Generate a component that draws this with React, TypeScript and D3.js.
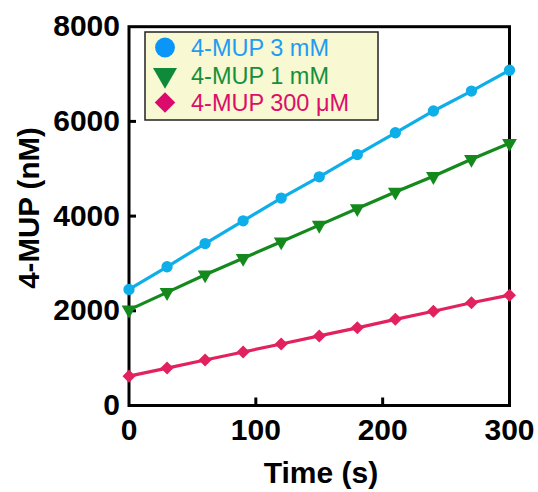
import React from "react";
import * as d3 from "d3";

const times = [0, 30, 60, 90, 120, 150, 180, 210, 240, 270, 300];
const mup3mM = [2450, 2930, 3420, 3900, 4380, 4830, 5300, 5760, 6220, 6640, 7080];
const mup1mM = [2020, 2390, 2760, 3110, 3460, 3810, 4160, 4510, 4840, 5200, 5540];
const mup300uM = [620, 790, 960, 1130, 1300, 1470, 1640, 1820, 1990, 2170, 2330];
const seriesNames = ["4-MUP 3 mM", "4-MUP 1 mM", "4-MUP 300 μM"];
const xTicks = [0, 100, 200, 300];
const yTicks = [0, 2000, 4000, 6000, 8000];

const W = 538;
const H = 492;
const FONT = "'Liberation Sans', Arial, sans-serif";

export default function App() {
  const x = d3.scaleLinear().domain([0, 300]).range([129, 509.5]);
  const y = d3.scaleLinear().domain([0, 8000]).range([405.5, 26.7]);

  const series = [
    { name: seriesNames[0], values: mup3mM, line: "#0EAEE8", mark: "#0EAEE8", legMark: "#0A96F8", text: "#1E9CF2", symbol: d3.symbolCircle },
    { name: seriesNames[1], values: mup1mM, line: "#148A1C", mark: "#148A1C", legMark: "#0F8A3A", text: "#16903A", symbol: d3.symbolTriangle },
    { name: seriesNames[2], values: mup300uM, line: "#E2215F", mark: "#E2215F", legMark: "#DC0A6C", text: "#DC0E6A", symbol: d3.symbolSquare },
  ];

  const lineGen = d3
    .line<[number, number]>()
    .x((d) => x(d[0]))
    .y((d) => y(d[1]));

  const markerPath = (sym: d3.SymbolType, size: number) => d3.symbol().type(sym).size(size)() as string;
  const plotSizes = [100, 95, 85];
  const legSizes = [310, 250, 210];
  const rot = [0, 180, 45];

  const [x0, x1] = x.range();
  const [y0, y1] = y.range();

  return (
    <svg width={W} height={H} style={{ position: "absolute", left: 0, top: 0, background: "#fff" }}>
      {/* frame */}
      <rect x={x0} y={y1} width={x1 - x0} height={y0 - y1} fill="none" stroke="#000" strokeWidth={3} />
      {/* ticks */}
      {yTicks.slice(1, -1).map((t) => (
        <line key={"yt" + t} x1={x0} x2={x0 + 7} y1={y(t)} y2={y(t)} stroke="#000" strokeWidth={3} />
      ))}
      {xTicks.slice(1, -1).map((t) => (
        <line key={"xt" + t} x1={x(t)} x2={x(t)} y1={y0} y2={y0 - 8} stroke="#000" strokeWidth={3} />
      ))}
      {/* tick labels */}
      {yTicks.map((t) => (
        <text key={"yl" + t} x={120} y={y(t) + 9.5} textAnchor="end" fontFamily={FONT} fontWeight="bold" fontSize={30} fill="#000">
          {t}
        </text>
      ))}
      {xTicks.map((t) => (
        <text key={"xl" + t} x={x(t)} y={439.5} textAnchor="middle" fontFamily={FONT} fontWeight="bold" fontSize={30} fill="#000">
          {t}
        </text>
      ))}
      {/* axis titles */}
      <text x={321} y={483} textAnchor="middle" fontFamily={FONT} fontWeight="bold" fontSize={30} fill="#000">
        Time (s)
      </text>
      <text transform="translate(39,208) rotate(-90)" textAnchor="middle" fontFamily={FONT} fontWeight="bold" fontSize={29.5} fill="#000">
        4-MUP (nM)
      </text>
      {/* series */}
      {series.map((s, i) => {
        const pts = times.map((t, j) => [t, s.values[j]] as [number, number]);
        return (
          <g key={s.name}>
            <path d={lineGen(pts) as string} fill="none" stroke={s.line} strokeWidth={3.2} />
            {pts.map((p, j) => (
              <path
                key={j}
                d={markerPath(s.symbol, plotSizes[i])}
                transform={`translate(${x(p[0])},${y(p[1])}) rotate(${rot[i]})`}
                fill={s.mark}
              />
            ))}
          </g>
        );
      })}
      {/* legend */}
      <rect x={145} y={32} width={233} height={88} fill="#F8F8D2" stroke="#222" strokeWidth={1.5} />
      {series.map((s, i) => {
        const cy = 47.5 + i * 27.5;
        return (
          <g key={"lg" + i}>
            <path d={markerPath(s.symbol, legSizes[i])} transform={`translate(165,${cy}) rotate(${rot[i]})`} fill={s.legMark} />
            <text x={191} y={cy + 8.5} fontFamily={FONT} fontSize={23.5} fill={s.text}>
              {s.name}
            </text>
          </g>
        );
      })}
    </svg>
  );
}
